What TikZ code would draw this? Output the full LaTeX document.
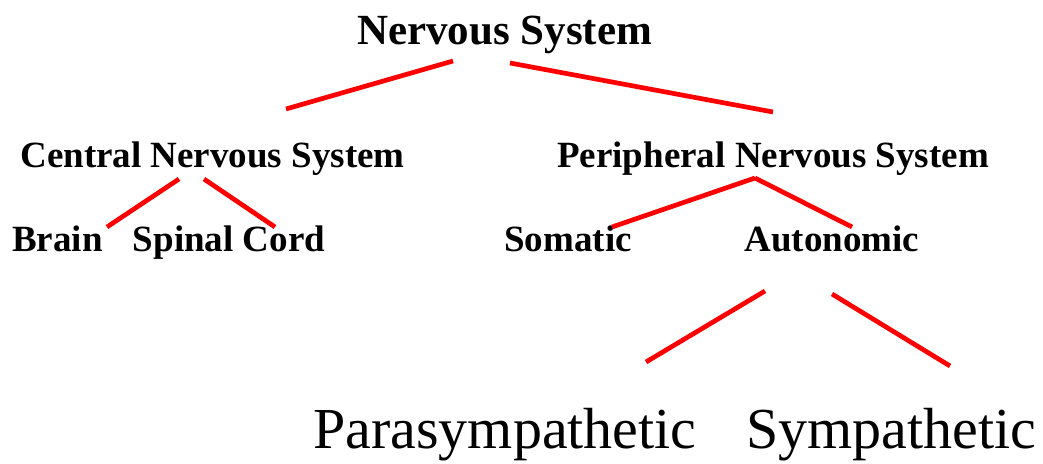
\documentclass[tikz,border=0pt]{standalone}
\usepackage{fontspec}
\setmainfont{Liberation Serif}
\begin{document}
\begin{tikzpicture}[x=1pt,y=-1pt,
  lbl/.style={anchor=base,inner sep=0pt,font=\bfseries\fontsize{37}{37}\selectfont},
  big/.style={anchor=base,inner sep=0pt,font=\fontsize{58}{58}\selectfont},
  branch/.style={red,line width=4.7pt}]
\useasboundingbox (0,0) rectangle (1043,463);
\node[lbl,font=\bfseries\fontsize{43}{43}\selectfont] (ns)at(504.5,44){Nervous System};
\node[lbl] (cns)at(212.5,167){Central Nervous System};
\node[lbl] (pns)at(773,167){Peripheral Nervous System};
\node[lbl] (brain)at(57.5,251){Brain};
\node[lbl] (spinal)at(229,251){Spinal Cord};
\node[lbl] (somatic)at(568,251){Somatic};
\node[lbl] (auto)at(832,251){Autonomic};
\node[big] (para)at(505,448){Parasympathetic};
\node[big] (symp)at(891,448){Sympathetic};
\coordinate (ns-l)at(453,61);
\coordinate (ns-r)at(510,63);
\coordinate (cns-in)at(286,109);
\coordinate (pns-in)at(773,112);
\coordinate (cns-l)at(179,179);
\coordinate (cns-r)at(204,179);
\coordinate (brain-in)at(107,227);
\coordinate (spinal-in)at(275,227);
\coordinate (pns-c)at(755,178);
\coordinate (somatic-in)at(612,227);
\coordinate (auto-in)at(852,227);
\coordinate (auto-l)at(765,291);
\coordinate (auto-r)at(832,294);
\coordinate (para-in)at(646,362);
\coordinate (symp-in)at(950,366);
\draw[branch] (ns-l) -- (cns-in);
\draw[branch] (ns-r) -- (pns-in);
\draw[branch] (cns-l) -- (brain-in);
\draw[branch] (cns-r) -- (spinal-in);
\draw[branch] (pns-c) -- (somatic-in);
\draw[branch] (pns-c) -- (auto-in);
\draw[branch] (auto-l) -- (para-in);
\draw[branch] (auto-r) -- (symp-in);
\end{tikzpicture}
\end{document}
